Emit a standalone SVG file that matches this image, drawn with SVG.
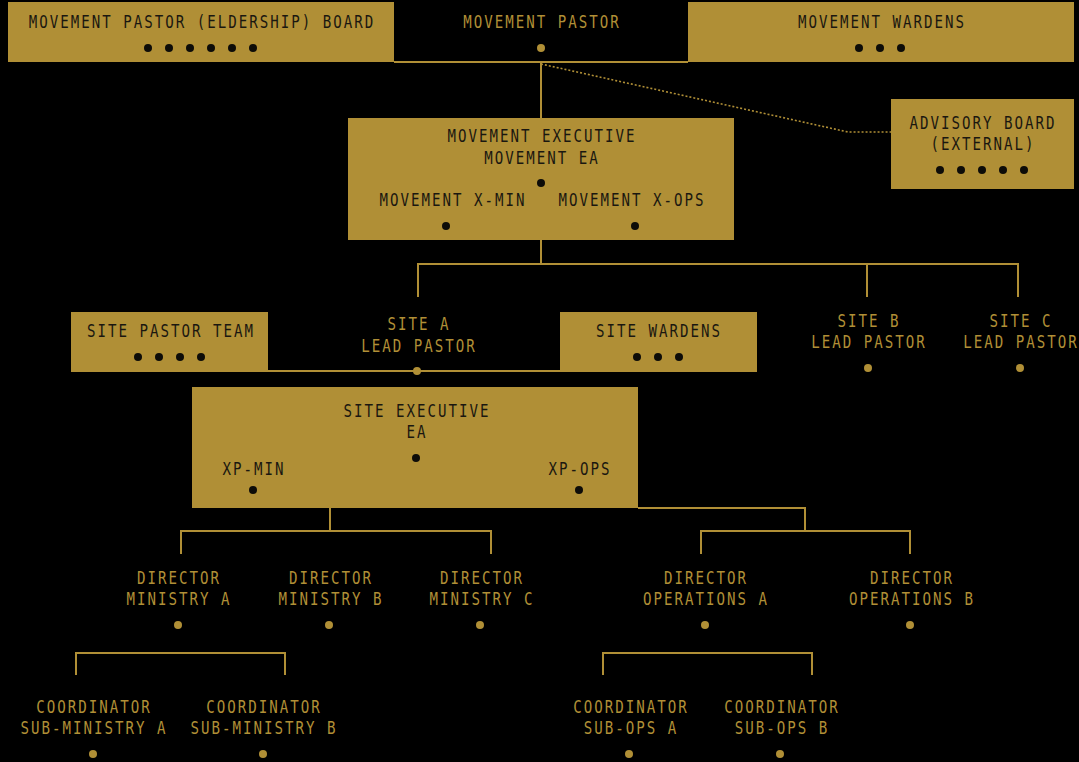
<svg xmlns="http://www.w3.org/2000/svg" width="1079" height="762" viewBox="0 0 1079 762">
<style>
.bg{fill:#000}
.box{fill:#b08f36}
.t{font-family:"DejaVu Sans Mono","Liberation Mono",monospace;font-size:17px;letter-spacing:2.4px;text-anchor:middle}
.dk{fill:#1a1710}
.gd{fill:#b08f36}
.dd{fill:#0d0c08}
.gdot{fill:#b08f36}
.ln{stroke:#b08f36;stroke-width:2;fill:none}
.dot{stroke:#b08f36;stroke-width:1.6;fill:none;stroke-dasharray:2 2}
</style>
<rect class="bg" x="0" y="0" width="1079" height="762"/>
<g id="connectors">
<path class="ln" d="M394 62H688"/>
<path class="ln" d="M541 62V118"/>
<path class="dot" d="M541 64L848 132H891"/>
<path class="ln" d="M541 240V264M418 297V264H1018V297M867 264V297"/>
<path class="ln" d="M268 371H560"/>
<path class="ln" d="M330 508V531M181 554V531H491V554"/>
<path class="ln" d="M638 508H805V531M701 554V531H910V554"/>
<path class="ln" d="M76 675V653H285V675"/>
<path class="ln" d="M603 675V653H812V675"/>
</g>
<g id="board">
<rect class="box" x="8" y="2" width="386" height="60"/>
<text class="t dk" x="202" y="28" textLength="346.5" lengthAdjust="spacingAndGlyphs">MOVEMENT PASTOR (ELDERSHIP) BOARD</text>
<circle class="dd" cx="148" cy="48" r="4"/><circle class="dd" cx="169" cy="48" r="4"/><circle class="dd" cx="190" cy="48" r="4"/><circle class="dd" cx="211" cy="48" r="4"/><circle class="dd" cx="232" cy="48" r="4"/><circle class="dd" cx="253" cy="48" r="4"/>
</g>
<g id="movement-pastor">
<text class="t gd" x="542" y="28" textLength="157.5" lengthAdjust="spacingAndGlyphs">MOVEMENT PASTOR</text>
<circle class="gdot" cx="541" cy="48" r="4"/>
</g>
<g id="movement-wardens">
<rect class="box" x="688" y="2" width="386" height="60"/>
<text class="t dk" x="882" y="28" textLength="168" lengthAdjust="spacingAndGlyphs">MOVEMENT WARDENS</text>
<circle class="dd" cx="859" cy="48" r="4"/><circle class="dd" cx="880" cy="48" r="4"/><circle class="dd" cx="901" cy="48" r="4"/>
</g>
<g id="advisory-board">
<rect class="box" x="891" y="99" width="183" height="90"/>
<text class="t dk" x="983" y="129" textLength="147" lengthAdjust="spacingAndGlyphs">ADVISORY BOARD</text>
<text class="t dk" x="983" y="150" textLength="105" lengthAdjust="spacingAndGlyphs">(EXTERNAL)</text>
<circle class="dd" cx="940" cy="170" r="4"/><circle class="dd" cx="961" cy="170" r="4"/><circle class="dd" cx="982" cy="170" r="4"/><circle class="dd" cx="1003" cy="170" r="4"/><circle class="dd" cx="1024" cy="170" r="4"/>
</g>
<g id="movement-executive">
<rect class="box" x="348" y="118" width="386" height="122"/>
<text class="t dk" x="542" y="142" textLength="189" lengthAdjust="spacingAndGlyphs">MOVEMENT EXECUTIVE</text>
<text class="t dk" x="542" y="164" textLength="115.5" lengthAdjust="spacingAndGlyphs">MOVEMENT EA</text>
<circle class="dd" cx="541" cy="183" r="4"/>
<text class="t dk" x="453" y="206" textLength="147" lengthAdjust="spacingAndGlyphs">MOVEMENT X-MIN</text>
<text class="t dk" x="632" y="206" textLength="147" lengthAdjust="spacingAndGlyphs">MOVEMENT X-OPS</text>
<circle class="dd" cx="446" cy="226" r="4"/>
<circle class="dd" cx="635" cy="226" r="4"/>
</g>
<g id="site-pastor-team">
<rect class="box" x="71" y="312" width="197" height="60"/>
<text class="t dk" x="171" y="337" textLength="168" lengthAdjust="spacingAndGlyphs">SITE PASTOR TEAM</text>
<circle class="dd" cx="138" cy="357" r="4"/><circle class="dd" cx="159" cy="357" r="4"/><circle class="dd" cx="180" cy="357" r="4"/><circle class="dd" cx="201" cy="357" r="4"/>
</g>
<g id="site-a">
<text class="t gd" x="419" y="330" textLength="63" lengthAdjust="spacingAndGlyphs">SITE A</text>
<text class="t gd" x="419" y="352" textLength="115.5" lengthAdjust="spacingAndGlyphs">LEAD PASTOR</text>
<circle class="gdot" cx="417" cy="371" r="4"/>
</g>
<g id="site-wardens">
<rect class="box" x="560" y="312" width="197" height="60"/>
<text class="t dk" x="659" y="337" textLength="126" lengthAdjust="spacingAndGlyphs">SITE WARDENS</text>
<circle class="dd" cx="637" cy="357" r="4"/><circle class="dd" cx="658" cy="357" r="4"/><circle class="dd" cx="679" cy="357" r="4"/>
</g>
<g id="site-b">
<text class="t gd" x="869" y="327" textLength="63" lengthAdjust="spacingAndGlyphs">SITE B</text>
<text class="t gd" x="869" y="348" textLength="115.5" lengthAdjust="spacingAndGlyphs">LEAD PASTOR</text>
<circle class="gdot" cx="868" cy="368" r="4"/>
</g>
<g id="site-c">
<text class="t gd" x="1021" y="327" textLength="63" lengthAdjust="spacingAndGlyphs">SITE C</text>
<text class="t gd" x="1021" y="348" textLength="115.5" lengthAdjust="spacingAndGlyphs">LEAD PASTOR</text>
<circle class="gdot" cx="1020" cy="368" r="4"/>
</g>
<g id="site-executive">
<rect class="box" x="192" y="387" width="446" height="121"/>
<text class="t dk" x="417" y="417" textLength="147" lengthAdjust="spacingAndGlyphs">SITE EXECUTIVE</text>
<text class="t dk" x="417" y="438" textLength="21" lengthAdjust="spacingAndGlyphs">EA</text>
<circle class="dd" cx="416" cy="458" r="4"/>
<text class="t dk" x="254" y="475" textLength="63" lengthAdjust="spacingAndGlyphs">XP-MIN</text>
<text class="t dk" x="580" y="475" textLength="63" lengthAdjust="spacingAndGlyphs">XP-OPS</text>
<circle class="dd" cx="253" cy="490" r="4"/>
<circle class="dd" cx="579" cy="490" r="4"/>
</g>
<g id="director-ministry-a">
<text class="t gd" x="179" y="584" textLength="84" lengthAdjust="spacingAndGlyphs">DIRECTOR</text>
<text class="t gd" x="179" y="605" textLength="105" lengthAdjust="spacingAndGlyphs">MINISTRY A</text>
<circle class="gdot" cx="178" cy="625" r="4"/>
</g>
<g id="director-ministry-b">
<text class="t gd" x="331" y="584" textLength="84" lengthAdjust="spacingAndGlyphs">DIRECTOR</text>
<text class="t gd" x="331" y="605" textLength="105" lengthAdjust="spacingAndGlyphs">MINISTRY B</text>
<circle class="gdot" cx="329" cy="625" r="4"/>
</g>
<g id="director-ministry-c">
<text class="t gd" x="482" y="584" textLength="84" lengthAdjust="spacingAndGlyphs">DIRECTOR</text>
<text class="t gd" x="482" y="605" textLength="105" lengthAdjust="spacingAndGlyphs">MINISTRY C</text>
<circle class="gdot" cx="480" cy="625" r="4"/>
</g>
<g id="director-operations-a">
<text class="t gd" x="706" y="584" textLength="84" lengthAdjust="spacingAndGlyphs">DIRECTOR</text>
<text class="t gd" x="706" y="605" textLength="126" lengthAdjust="spacingAndGlyphs">OPERATIONS A</text>
<circle class="gdot" cx="705" cy="625" r="4"/>
</g>
<g id="director-operations-b">
<text class="t gd" x="912" y="584" textLength="84" lengthAdjust="spacingAndGlyphs">DIRECTOR</text>
<text class="t gd" x="912" y="605" textLength="126" lengthAdjust="spacingAndGlyphs">OPERATIONS B</text>
<circle class="gdot" cx="910" cy="625" r="4"/>
</g>
<g id="coordinator-sub-ministry-a">
<text class="t gd" x="94" y="713" textLength="115.5" lengthAdjust="spacingAndGlyphs">COORDINATOR</text>
<text class="t gd" x="94" y="734" textLength="147" lengthAdjust="spacingAndGlyphs">SUB-MINISTRY A</text>
<circle class="gdot" cx="93" cy="754" r="4"/>
</g>
<g id="coordinator-sub-ministry-b">
<text class="t gd" x="264" y="713" textLength="115.5" lengthAdjust="spacingAndGlyphs">COORDINATOR</text>
<text class="t gd" x="264" y="734" textLength="147" lengthAdjust="spacingAndGlyphs">SUB-MINISTRY B</text>
<circle class="gdot" cx="263" cy="754" r="4"/>
</g>
<g id="coordinator-sub-ops-a">
<text class="t gd" x="631" y="713" textLength="115.5" lengthAdjust="spacingAndGlyphs">COORDINATOR</text>
<text class="t gd" x="631" y="734" textLength="94.5" lengthAdjust="spacingAndGlyphs">SUB-OPS A</text>
<circle class="gdot" cx="629" cy="754" r="4"/>
</g>
<g id="coordinator-sub-ops-b">
<text class="t gd" x="782" y="713" textLength="115.5" lengthAdjust="spacingAndGlyphs">COORDINATOR</text>
<text class="t gd" x="782" y="734" textLength="94.5" lengthAdjust="spacingAndGlyphs">SUB-OPS B</text>
<circle class="gdot" cx="780" cy="754" r="4"/>
</g>
</svg>
